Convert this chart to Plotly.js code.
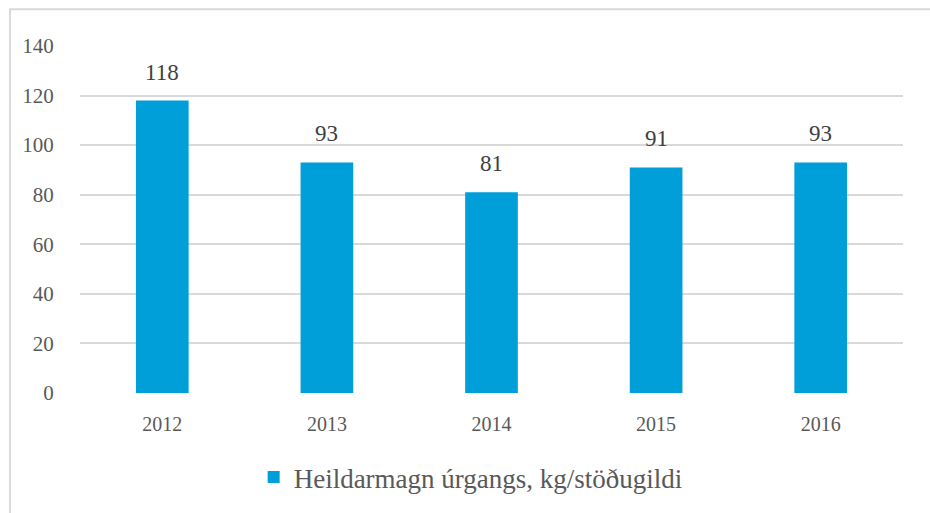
<!DOCTYPE html>
<html><head><meta charset="utf-8">
<script src="https://cdn.plot.ly/plotly-3.0.1.min.js"></script>
<style>html,body{margin:0;padding:0;background:#fff}#c{width:930px;height:513px}</style>
</head><body><div id="c"></div>
<script>
const years = ['2012','2013','2014','2015','2016'];
const values = [118, 93, 81, 91, 93];
const labels = ['118','93','81','91','93'];
const seriesName = 'Heildarmagn úrgangs, kg/stöðugildi';
const yTicks = [0,20,40,60,80,100,120,140];

const font = '"Liberation Serif", "DejaVu Serif", serif';
const trace = {
  type:'bar', x: years, y: values, name: seriesName,
  marker:{color:'#009fda'}, showlegend:true, hoverinfo:'skip'
};
const annotations = years.map((y,i)=>({
  x:i, y:values[i], text:labels[i], showarrow:false, xref:'x', yref:'y',
  yanchor:'bottom', yshift:14, font:{family:font,size:23,color:'#404040'}
}));
const layout = {
  width:930, height:513,
  margin:{l:80, r:27, t:46, b:119},
  paper_bgcolor:'#fff', plot_bgcolor:'#fff',
  bargap:0.68,
  font:{family:font, color:'#595959'},
  xaxis:{type:'category', range:[-0.5,4.5], showgrid:false, zeroline:false, showline:false,
    ticks:'outside', ticklen:13, tickcolor:'rgba(0,0,0,0)',
    tickfont:{family:font,size:20,color:'#595959'}},
  yaxis:{range:[0,140], tickvals:yTicks, ticktext:yTicks.map(String), showgrid:true,
    gridcolor:'#d9d9d9', gridwidth:2, zeroline:false, showline:false,
    ticks:'outside', ticklen:21, tickcolor:'rgba(0,0,0,0)',
    tickfont:{family:font,size:21,color:'#595959'}},
  showlegend:true,
  legend:{orientation:'h', x:0.211, xanchor:'left', y:-0.24, yanchor:'middle',
    font:{family:font,size:27,color:'#595959'}},
  annotations: annotations,
  shapes:[{type:'rect', xref:'paper', yref:'paper', x0:-0.0851, x1:1.1, y0:-0.5, y1:1.106,
    line:{color:'#d9d9d9', width:2}, fillcolor:'rgba(0,0,0,0)', layer:'below'}]
};
Plotly.newPlot('c',[trace],layout,{displayModeBar:false,staticPlot:true});
</script></body></html>
